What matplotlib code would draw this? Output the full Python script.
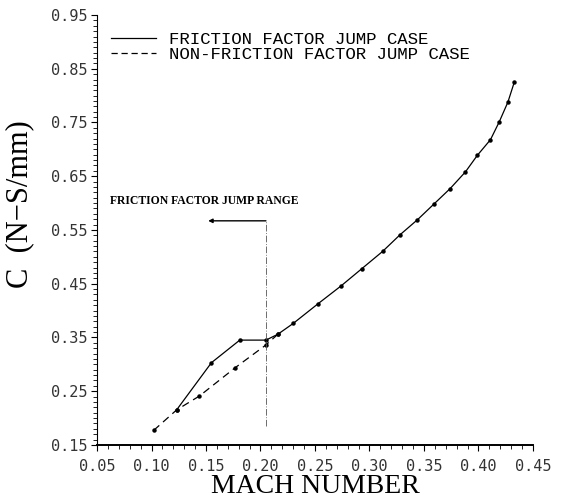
"""
Damping coefficient C vs Mach number, friction factor jump vs no jump.
"""

import matplotlib
matplotlib.use("Agg")
import matplotlib.pyplot as plt
from matplotlib.lines import Line2D
from matplotlib.ticker import MultipleLocator, FormatStrFormatter

# friction factor jump case (solid)
mach_jump = [0.123, 0.155, 0.181, 0.205, 0.216, 0.230, 0.253, 0.274, 0.293, 0.312,
             0.328, 0.344, 0.359, 0.374, 0.388, 0.399, 0.411, 0.419, 0.427, 0.433]
c_jump = [0.215, 0.303, 0.345, 0.345, 0.356, 0.376, 0.413, 0.446, 0.478, 0.510,
          0.541, 0.569, 0.598, 0.627, 0.658, 0.689, 0.718, 0.751, 0.788, 0.826]

# non-friction factor jump case (dashed), merges with the solid curve after 0.216
mach_nojump = [0.102, 0.123, 0.144, 0.177, 0.205, 0.216]
c_nojump = [0.177, 0.215, 0.241, 0.294, 0.336, 0.356]

# jump range marker
jump_x = 0.205
jump_arrow_to = 0.152
jump_y = 0.567
jump_y_low = 0.185

xticks = [0.05, 0.10, 0.15, 0.20, 0.25, 0.30, 0.35, 0.40, 0.45]
yticks = [0.15, 0.25, 0.35, 0.45, 0.55, 0.65, 0.75, 0.85, 0.95]

serif = "Liberation Serif"
mono = "DejaVu Sans Mono"

fig = plt.figure(figsize=(5.64, 5.01), dpi=100)
ax = fig.add_axes([0.172, 0.112, 0.773, 0.858])

ax.plot(mach_nojump, c_nojump, color="black", lw=0.9, ls=(0, (6, 4)),
        marker="o", ms=2.2)
ax.plot(mach_jump, c_jump, color="black", lw=0.9, marker="o", ms=2.2)

# friction factor jump range annotation
ax.plot([jump_x, jump_x], [jump_y_low, jump_y], color="#555555", lw=0.6,
        ls=(0, (8, 2, 1, 2)))
ax.annotate("", xy=(jump_arrow_to, jump_y), xytext=(jump_x, jump_y),
            arrowprops=dict(arrowstyle="-|>", color="black", lw=1.0,
                            mutation_scale=6, shrinkA=0, shrinkB=0))
ax.text(0.062, 0.604, "FRICTION FACTOR JUMP RANGE", fontsize=8.4,
        fontweight="bold", family=serif, va="center")

ax.set_xlim(0.05, 0.45)
ax.set_ylim(0.15, 0.95)
ax.set_xticks(xticks)
ax.set_yticks(yticks)
ax.xaxis.set_minor_locator(MultipleLocator(0.01))
ax.yaxis.set_minor_locator(MultipleLocator(0.01))
ax.xaxis.set_major_formatter(FormatStrFormatter("%.2f"))
ax.yaxis.set_major_formatter(FormatStrFormatter("%.2f"))

for lab in ax.get_xticklabels() + ax.get_yticklabels():
    lab.set_family(mono)
    lab.set_fontsize(11)
    lab.set_color("#333333")

ax.tick_params(axis="both", which="major", direction="out", length=4, width=0.8)
ax.tick_params(axis="both", which="minor", direction="out", length=3, width=0.6)
ax.tick_params(axis="x", pad=6)
ax.tick_params(axis="y", pad=3)

ax.spines["top"].set_visible(False)
ax.spines["right"].set_visible(False)
ax.spines["bottom"].set_linewidth(1.4)
ax.spines["left"].set_linewidth(0.8)

ax.set_xlabel("MACH NUMBER", family=serif, fontsize=20, labelpad=0.5)
ax.set_ylabel("C  (N\u2212S/mm)", family=serif, fontsize=22)
ax.yaxis.set_label_coords(-0.145, 0.56)

handles = [
    Line2D([], [], color="black", lw=0.9),
    Line2D([], [], color="black", lw=0.9, ls=(0, (5, 3))),
]
ax.legend(handles, ["FRICTION FACTOR JUMP CASE", "NON-FRICTION FACTOR JUMP CASE"],
          loc="upper left", bbox_to_anchor=(0.005, 0.99), frameon=False,
          prop=dict(family="Liberation Mono", size=12.5), handlelength=2.6,
          handletextpad=0.7, labelspacing=0.0, borderpad=0.2)

fig.savefig("out.png", dpi=100)
